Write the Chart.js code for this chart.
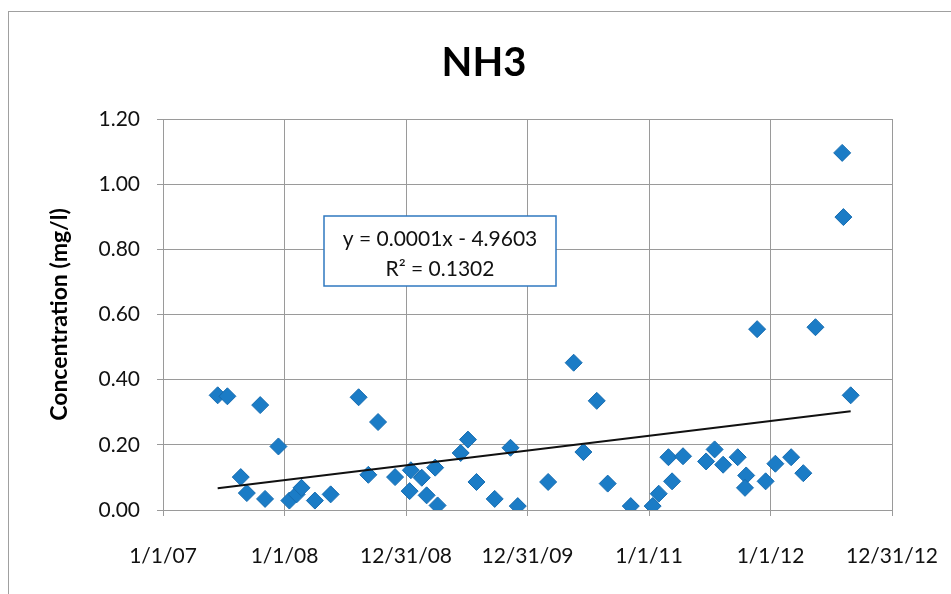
<!DOCTYPE html>
<html>
<head>
<meta charset="utf-8">
<title>NH3</title>
<script src="https://cdn.jsdelivr.net/npm/chart.js@4/dist/chart.umd.min.js"></script>
<style>
  html, body { margin: 0; padding: 0; background: #fff; }
  #wrap { position: relative; width: 951px; height: 594px; }
</style>
</head>
<body>
<div id="wrap"><canvas id="chart" width="951" height="594"></canvas></div>
<script>
// sample dates as decimal years
var sampleYears = [
  2007.45, 2007.53, 2007.64, 2007.69, 2007.80, 2007.84, 2007.95, 2008.04, 2008.10,
  2008.14, 2008.25, 2008.38, 2008.61, 2008.69, 2008.77, 2008.91, 2009.04, 2009.03,
  2009.13, 2009.17, 2009.26, 2009.24, 2009.45, 2009.51, 2009.58, 2009.73, 2009.86,
  2009.92, 2010.17, 2010.38, 2010.46, 2010.57, 2010.66, 2010.85, 2011.03, 2011.08,
  2011.19, 2011.16, 2011.28, 2011.47, 2011.54, 2011.61, 2011.73, 2011.80, 2011.79,
  2011.89, 2011.96, 2012.04, 2012.17, 2012.27, 2012.37, 2012.59, 2012.60, 2012.66
];
// NH3 concentration (mg/l)
var nh3Values = [
  0.352, 0.349, 0.101, 0.052, 0.322, 0.034, 0.195, 0.029, 0.048,
  0.068, 0.029, 0.048, 0.346, 0.108, 0.270, 0.101, 0.122, 0.058,
  0.099, 0.045, 0.014, 0.130, 0.175, 0.216, 0.086, 0.034, 0.191,
  0.012, 0.086, 0.452, 0.178, 0.335, 0.081, 0.012, 0.012, 0.050,
  0.088, 0.162, 0.165, 0.149, 0.186, 0.139, 0.162, 0.106, 0.068,
  0.555, 0.088, 0.142, 0.162, 0.113, 0.561, 1.096, 0.899, 0.352
];
// linear trendline end points (Excel)
var trendYears = [2007.45, 2012.66];
var trendValues = [0.067, 0.303];

var xTickLabels = ['1/1/07', '1/1/08', '12/31/08', '12/31/09', '1/1/11', '1/1/12', '12/31/12'];
var yTicks = [0, 0.2, 0.4, 0.6, 0.8, 1.0, 1.2];
var trendText = ['y = 0.0001x - 4.9603', 'R\u00B2 = 0.1302'];
var chartTitle = 'NH3';
var yAxisTitle = 'Concentration (mg/l)';

var FONT = "Lato, 'Open Sans', sans-serif";
var gridColor = '#9a9a9a';

var points = sampleYears.map(function(x, i) { return {x: x, y: nh3Values[i]}; });
var trend = trendYears.map(function(x, i) { return {x: x, y: trendValues[i]}; });

/* frame, title and the trendline label box are drawn by hand */
var decor = {
  id: 'decor',
  beforeDraw: function(chart) {
    var ctx = chart.ctx;
    ctx.save();
    ctx.strokeStyle = '#a0a0a0';
    ctx.lineWidth = 1;
    ctx.strokeRect(8.5, 11.5, 1000, 700);
    ctx.fillStyle = '#000';
    ctx.font = 'bold 40px ' + FONT;
    ctx.textAlign = 'center';
    ctx.textBaseline = 'middle';
    ctx.fillText(chartTitle, 484, 63);
    ctx.restore();
  },
  afterDraw: function(chart) {
    var ctx = chart.ctx;
    ctx.save();
    ctx.fillStyle = '#fff';
    ctx.fillRect(324, 216, 232, 70);
    ctx.strokeStyle = '#2f78c0';
    ctx.lineWidth = 1.5;
    ctx.strokeRect(324, 216, 232, 70);
    ctx.fillStyle = '#111';
    ctx.font = '21px ' + FONT;
    ctx.textAlign = 'center';
    ctx.textBaseline = 'middle';
    ctx.fillText(trendText[0], 440, 239);
    ctx.fillText(trendText[1], 440, 269);
    ctx.restore();
  }
};

new Chart(document.getElementById('chart'), {
  type: 'scatter',
  data: {
    datasets: [{
      label: 'trend',
      data: trend,
      showLine: true,
      borderColor: '#111',
      borderWidth: 2,
      pointRadius: 0,
      order: 0
    }, {
      label: 'NH3',
      data: points,
      pointStyle: 'rectRot',
      pointRadius: 8.5,
      backgroundColor: '#1b7cc6',
      borderColor: '#166cb0',
      borderWidth: 1,
      order: 1
    }]
  },
  options: {
    responsive: false,
    animation: false,
    layout: { padding: { top: 119, right: 59, bottom: 0, left: 0 } },
    plugins: {
      legend: { display: false },
      tooltip: { enabled: false },
      title: { display: false }
    },
    scales: {
      x: {
        type: 'linear',
        min: 2007,
        max: 2013,
        afterBuildTicks: function(scale) {
          scale.ticks = xTickLabels.map(function(l, i) { return {value: 2007 + i}; });
        },
        afterFit: function(scale) {
          scale.height = 84;
          scale.paddingLeft = 0;
          scale.paddingRight = 0;
        },
        ticks: {
          autoSkip: false,
          maxRotation: 0,
          padding: 28,
          color: '#111',
          font: { family: FONT, size: 21 },
          callback: function(v, i) { return xTickLabels[i]; }
        },
        grid: { color: gridColor, lineWidth: 1, tickLength: 6 },
        border: { color: gridColor }
      },
      y: {
        min: 0,
        max: 1.2,
        afterBuildTicks: function(scale) {
          scale.ticks = yTicks.map(function(v) { return {value: v}; });
        },
        afterFit: function(scale) { scale.width = 163; },
        ticks: {
          padding: 17,
          color: '#111',
          font: { family: FONT, size: 21 },
          callback: function(v) { return v.toFixed(2); }
        },
        grid: { color: gridColor, lineWidth: 1, tickLength: 6 },
        border: { color: gridColor },
        title: {
          display: true,
          text: yAxisTitle,
          color: '#000',
          font: { family: FONT, size: 23, weight: 'bold' },
          padding: { top: 46, bottom: 0 }
        }
      }
    }
  },
  plugins: [decor]
});
</script>
</body>
</html>
